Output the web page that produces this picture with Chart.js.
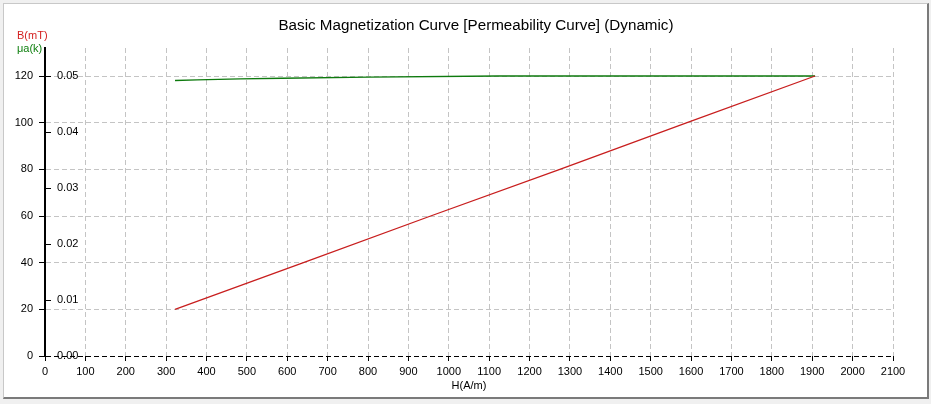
<!DOCTYPE html>
<html lang="en">
<head>
    <meta charset="UTF-8">
    <title>Basic Magnetization Curve</title>
    <script src="https://cdn.jsdelivr.net/npm/chart.js"></script>
    <style>
        html, body {
            margin: 0;
            padding: 0;
            width: 931px;
            height: 404px;
            overflow: hidden;
            background: #f0f0f0;
            font-family: "Liberation Sans", Arial, sans-serif;
        }
        .panel {
            position: absolute;
            left: 3px;
            top: 3px;
            width: 923px;
            height: 393px;
            background: #fff;
            border-left: 1px solid #c8c8c8;
            border-top: 1px solid #c8c8c8;
            border-right: 2px solid #7a7a7a;
            border-bottom: 2px solid #7a7a7a;
        }
        #wrap {
            position: absolute;
            left: 0;
            top: 0;
            width: 931px;
            height: 404px;
        }
        .title {
            position: absolute;
            top: 16px;
            left: 476px;
            transform: translateX(-50%);
            font-size: 15.2px;
            white-space: nowrap;
            color: #000;
        }
        .axis-name {
            position: absolute;
            left: 17px;
            font-size: 11px;
        }
    </style>
</head>
<body>
    <div class="panel"></div>
    <div id="wrap"><canvas id="chart" width="931" height="404"></canvas></div>
    <div class="title">Basic Magnetization Curve [Permeability Curve] (Dynamic)</div>
    <div class="axis-name" style="top: 29px; color: #d42020;">B(mT)</div>
    <div class="axis-name" style="top: 42px; color: #108010;">μa(k)</div>

    <script>
        // B(mT) vs H(A/m)
        const hB = [322, 640, 955, 1275, 1590, 1907];
        const bValues = [20, 40, 60, 80, 100, 120];

        // μa(k) vs H(A/m)
        const hMu = [322, 377, 483, 587, 800, 1122, 1907];
        const muValues = [0.0492, 0.0493, 0.0495, 0.0496, 0.0498, 0.0500, 0.0500];

        const hTicks = { min: 0, max: 2100, step: 100 };
        const bTicks = { min: 0, max: 132, step: 20 };
        const muTicks = { min: 0, max: 0.055, step: 0.01 };

        const tickFont = { family: 'Liberation Sans', size: 11 };

        // inward tick marks of the μa axis
        const muTickMarks = {
            id: 'muTickMarks',
            afterDraw(chart) {
                const scale = chart.scales.yMu;
                const ctx = chart.ctx;
                ctx.save();
                ctx.strokeStyle = '#000';
                ctx.lineWidth = 1;
                scale.ticks.forEach(t => {
                    const y = Math.round(scale.getPixelForValue(t.value)) + 0.5;
                    ctx.beginPath();
                    ctx.moveTo(46, y);
                    ctx.lineTo(51, y);
                    ctx.stroke();
                });
                ctx.restore();
            }
        };

        new Chart(document.getElementById('chart'), {
            type: 'line',
            data: {
                datasets: [
                    {
                        label: 'B(mT)',
                        data: hB.map((h, i) => ({ x: h, y: bValues[i] })),
                        borderColor: '#c81e1e',
                        borderWidth: 1.3,
                        pointRadius: 0,
                        yAxisID: 'yB',
                    },
                    {
                        label: 'μa(k)',
                        data: hMu.map((h, i) => ({ x: h, y: muValues[i] })),
                        borderColor: '#0e7a0e',
                        borderWidth: 1.3,
                        pointRadius: 0,
                        yAxisID: 'yMu',
                    },
                ],
            },
            plugins: [muTickMarks],
            options: {
                responsive: false,
                animation: false,
                layout: { padding: { left: 0, right: 38, top: 48, bottom: 0 } },
                plugins: {
                    legend: { display: false },
                    tooltip: { enabled: false },
                },
                scales: {
                    x: {
                        type: 'linear',
                        min: hTicks.min,
                        max: hTicks.max,
                        ticks: { stepSize: hTicks.step, color: '#000', font: tickFont, padding: 4, maxRotation: 0, callback: v => String(v) },
                        grid: {
                            color: c => c.tick && c.tick.value === 0 ? 'rgba(0,0,0,0)' : '#c4c4c4',
                            tickColor: '#000',
                            tickLength: 5,
                        },
                        border: { display: false, dash: [5, 3] },
                        title: { display: true, text: 'H(A/m)', color: '#000', font: tickFont, padding: { top: 0, bottom: 11 } },
                        afterFit: s => { s.height = 48; },
                    },
                    yB: {
                        position: 'left',
                        weight: 1,
                        min: bTicks.min,
                        max: bTicks.max,
                        ticks: { stepSize: bTicks.step, includeBounds: false, color: '#000', font: tickFont, padding: 6 },
                        grid: {
                            color: c => c.tick && c.tick.value === 0 ? '#000' : '#c4c4c4',
                            tickColor: '#000',
                            tickLength: 6,
                        },
                        border: { display: true, color: '#000', width: 2, dash: [5, 3] },
                        afterFit: s => { s.width = 45; },
                    },
                    yMu: {
                        position: 'left',
                        weight: 0,
                        min: muTicks.min,
                        max: muTicks.max,
                        ticks: {
                            stepSize: muTicks.step,
                            includeBounds: false,
                            mirror: true,
                            padding: 12,
                            color: '#000',
                            font: tickFont,
                            callback: v => v.toFixed(2),
                        },
                        grid: { display: false },
                        border: { display: false },
                        afterFit: s => { s.width = 0; },
                    },
                },
            },
        });
    </script>
</body>
</html>
